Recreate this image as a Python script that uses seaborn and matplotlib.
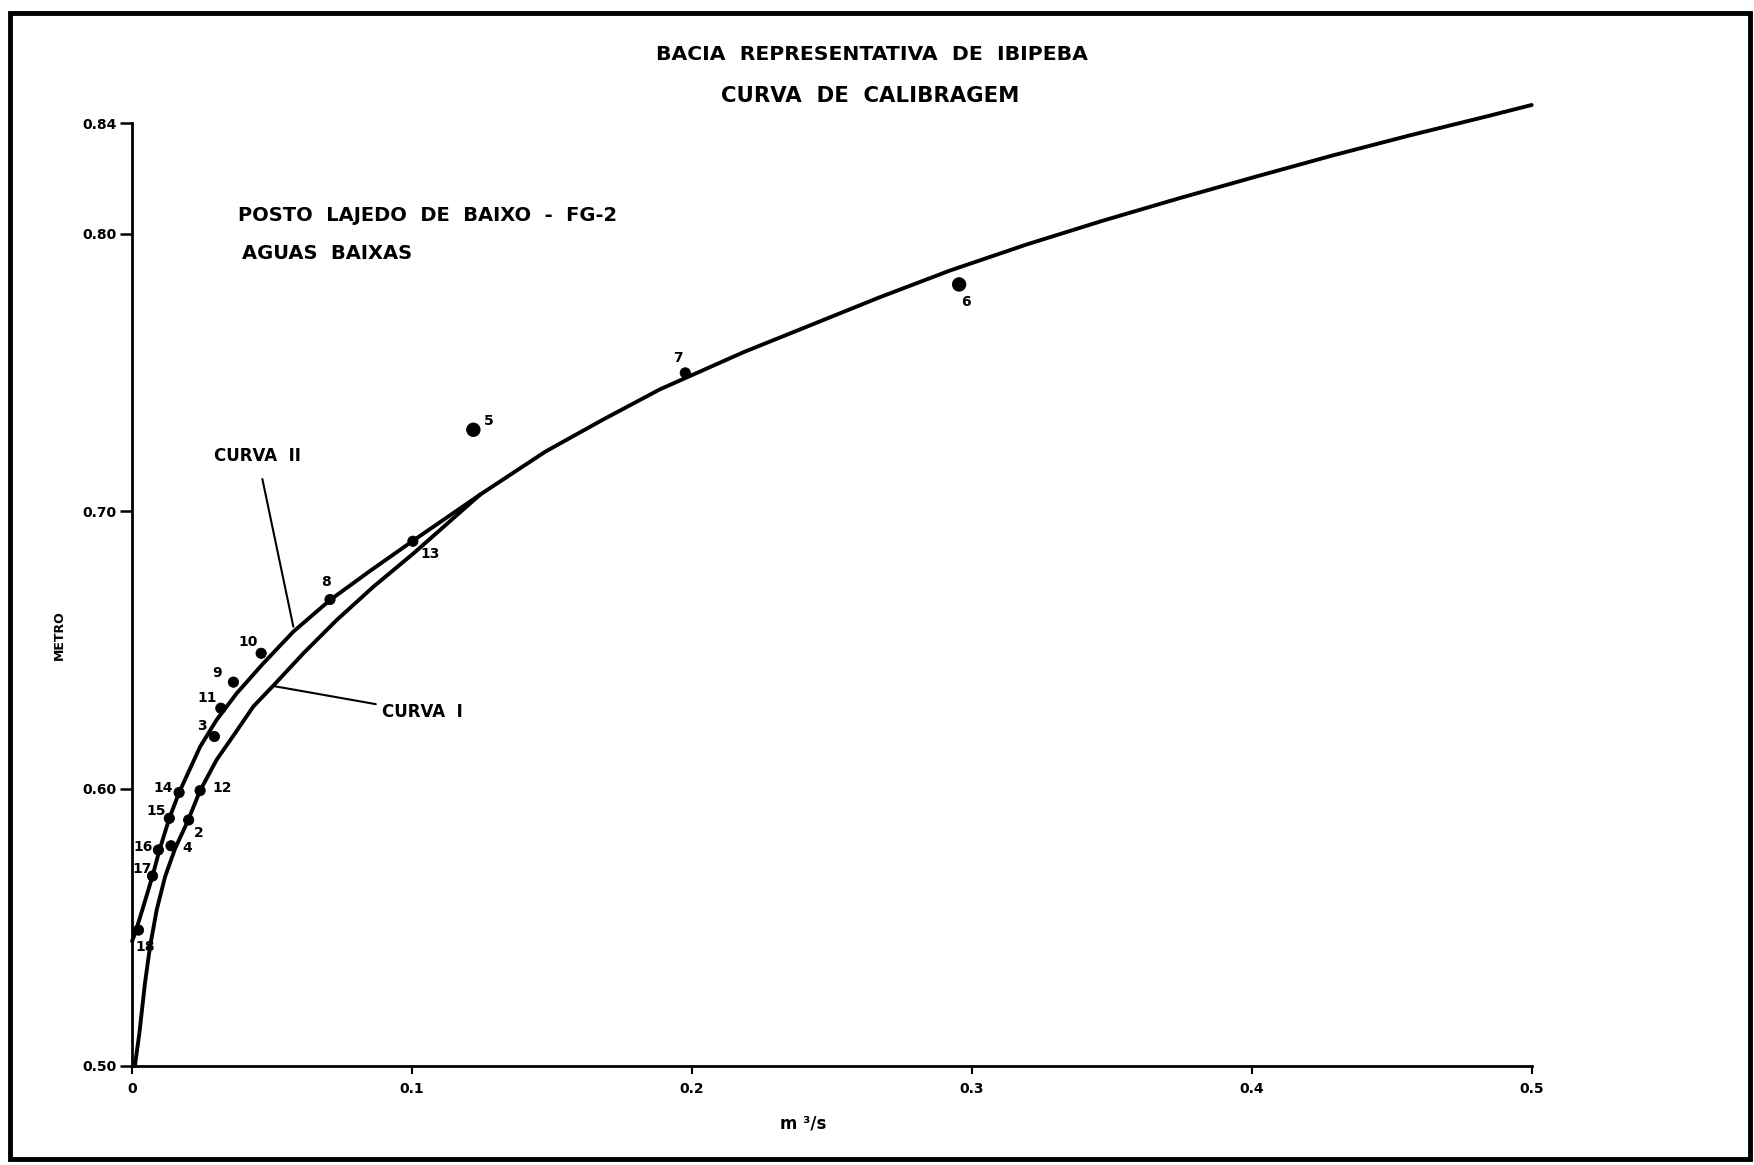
import matplotlib
matplotlib.use("Agg")
import matplotlib.pyplot as plt
import seaborn as sns
import pandas as pd
from matplotlib.patches import Rectangle

# measured points (vazao m3/s, cota m)
point_ids = ["2", "3", "4", "5", "6", "7", "8", "9", "10", "11", "12", "13", "14", "15", "16", "17", "18"]
point_q = [0.0202, 0.0294, 0.0139, 0.1219, 0.2954, 0.1976, 0.0707, 0.0362, 0.0461, 0.0317,
           0.0243, 0.1003, 0.0168, 0.0133, 0.0094, 0.0073, 0.0023]
point_h = [0.5887, 0.6188, 0.5794, 0.7294, 0.7818, 0.7499, 0.6682, 0.6384, 0.6488, 0.6290,
           0.5993, 0.6892, 0.5986, 0.5893, 0.5779, 0.5685, 0.5490]

# curva I (lower branch)
curva1_q = [0.0010, 0.0026, 0.0046, 0.0064, 0.0088, 0.0118, 0.0154, 0.0198, 0.0243, 0.0302,
            0.0368, 0.0433, 0.0505, 0.0612, 0.0731, 0.0862, 0.1005, 0.1243]
curva1_h = [0.5000, 0.5118, 0.5298, 0.5430, 0.5563, 0.5683, 0.5785, 0.5881, 0.5993, 0.6104,
            0.6200, 0.6296, 0.6372, 0.6488, 0.6608, 0.6728, 0.6848, 0.7060]

# curva II (upper branch)
curva2_q = [0.0, 0.0011, 0.0040, 0.0073, 0.0098, 0.0133, 0.0168, 0.0243, 0.0302, 0.0374,
            0.0469, 0.0576, 0.0707, 0.0850, 0.1005, 0.1243]
curva2_h = [0.5450, 0.5479, 0.5574, 0.5685, 0.5779, 0.5893, 0.5986, 0.6151, 0.6248, 0.6344,
            0.6452, 0.6566, 0.6680, 0.6785, 0.6895, 0.7060]

# common part of both curves
shared_q = [0.1243, 0.1476, 0.1681, 0.1886, 0.2187, 0.2433, 0.2666, 0.2921, 0.3195, 0.3468,
            0.3741, 0.4015, 0.4288, 0.4562, 0.4835, 0.4999]
shared_h = [0.7060, 0.7215, 0.7330, 0.7440, 0.7575, 0.7675, 0.7770, 0.7868, 0.7962, 0.8048,
            0.8129, 0.8207, 0.8283, 0.8355, 0.8423, 0.8465]

x_ticks = [0, 0.1, 0.2, 0.3, 0.4, 0.5]
x_labels = ["0", "0.1", "0.2", "0.3", "0.4", "0.5"]
y_ticks = [0.50, 0.60, 0.70, 0.80, 0.84]
y_labels = ["0.50", "0.60", "0.70", "0.80", "0.84"]

# label offsets in points
label_dx = [7.4, -9.1, 11.7, 11.4, 5.0, -5.5, -3.1, -11.5, -9.1, -10.1, 15.6, 12.4, -11.7, -9.6, -10.8, -7.6, 4.8]
label_dy = [-9.6, 7.7, -1.9, 6.0, -12.7, 11.0, 12.9, 6.5, 8.4, 7.2, 2.2, -9.1, 3.6, 5.5, 1.9, 4.8, -12.0]

pts = pd.DataFrame({"q": point_q, "h": point_h, "id": point_ids})
pts["big"] = pts["id"].isin(["5", "6"])

sns.set_style("white")
plt.rcParams["font.family"] = ["DejaVu Sans"]
plt.rcParams["text.color"] = "black"
plt.rcParams["xtick.color"] = "black"
plt.rcParams["ytick.color"] = "black"

fig = plt.figure(figsize=(17.54, 11.65), dpi=100)
ax = fig.add_axes([0.0753, 0.085, 0.7981, 0.8094])

lw = 2.8
for qq, hh in [(curva1_q, curva1_h), (curva2_q, curva2_h), (shared_q, shared_h)]:
    sns.lineplot(x=qq, y=hh, ax=ax, color="black", lw=lw, sort=False, estimator=None)
for line in ax.lines:
    line.set_clip_on(False)
    line.set_solid_capstyle("round")
    line.set_solid_joinstyle("round")

sns.scatterplot(data=pts, x="q", y="h", size="big", sizes={False: 55, True: 95},
                color="black", edgecolor="black", legend=False, ax=ax, zorder=5, clip_on=False)

for i, lab in enumerate(point_ids):
    ax.annotate(lab, (point_q[i], point_h[i]), xytext=(label_dx[i], label_dy[i]),
                textcoords="offset points", ha="center", va="center",
                fontsize=10, fontweight="bold")

# curve name callouts
ax.annotate("CURVA  II", xy=(0.0576, 0.6584), xytext=(0.0448, 0.7200),
            ha="center", va="center", fontsize=12, fontweight="heavy",
            arrowprops=dict(arrowstyle="-", color="black", lw=1.5, shrinkA=8, shrinkB=0))
ax.annotate("CURVA  I", xy=(0.0505, 0.6370), xytext=(0.0892, 0.6275),
            ha="left", va="center", fontsize=12, fontweight="heavy",
            arrowprops=dict(arrowstyle="-", color="black", lw=1.5, shrinkA=2, shrinkB=0))

ax.set_xlim(0, 0.5)
ax.set_ylim(0.5, 0.84)
ax.set_xticks(x_ticks)
ax.set_xticklabels(x_labels, fontsize=10, fontweight="bold")
ax.set_yticks(y_ticks)
ax.set_yticklabels(y_labels, fontsize=10, fontweight="bold")
ax.tick_params(axis="y", direction="out", length=9, width=1.8, pad=2, left=True)
ax.tick_params(axis="x", direction="out", length=6, width=1.5, pad=5.5, bottom=True)
ax.set_xlabel("")
ax.set_ylabel("")
for s in ["top", "right"]:
    ax.spines[s].set_visible(False)
for s in ["left", "bottom"]:
    ax.spines[s].set_linewidth(2.0)
    ax.spines[s].set_color("black")

fig.text(0.497, 0.9528, "BACIA  REPRESENTATIVA  DE  IBIPEBA", ha="center", va="center",
         fontsize=14.7, fontweight="bold")
fig.text(0.496, 0.9176, "CURVA  DE  CALIBRAGEM", ha="center", va="center",
         fontsize=15.3, fontweight="heavy")
fig.text(0.1357, 0.8146, "POSTO  LAJEDO  DE  BAIXO  -  FG-2", ha="left", va="center",
         fontsize=14, fontweight="bold")
fig.text(0.138, 0.7828, "AGUAS  BAIXAS", ha="left", va="center",
         fontsize=14, fontweight="bold")
fig.text(0.0336, 0.455, "METRO", ha="center", va="center", rotation=90,
         fontsize=9, fontweight="heavy")
fig.text(0.458, 0.036, "m ³/s", ha="center", va="center", fontsize=12, fontweight="bold")

fig.patches.append(Rectangle((10 / 1754, 1 - 1159 / 1165), 1740 / 1754, 1146 / 1165,
                             transform=fig.transFigure, fill=False, lw=3.5, ec="black"))

fig.savefig("out.png", dpi=100, facecolor="white")
